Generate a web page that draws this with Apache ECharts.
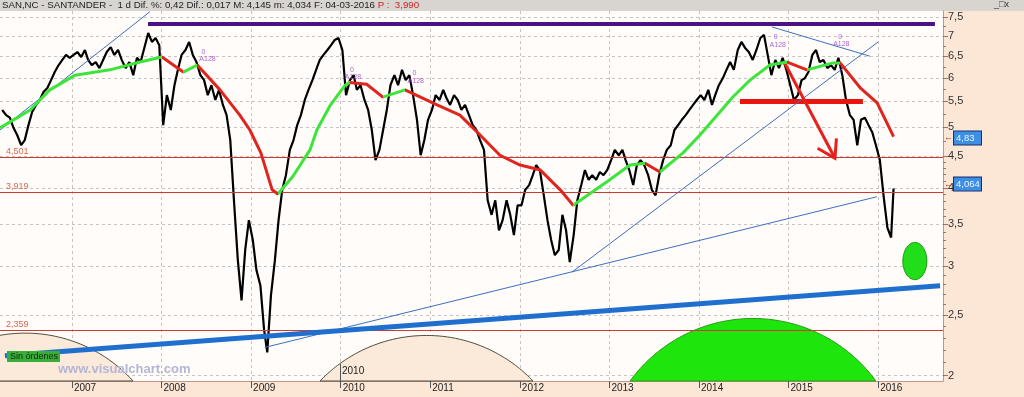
<!DOCTYPE html>
<html><head><meta charset="utf-8">
<script src="https://cdn.jsdelivr.net/npm/echarts@6/dist/echarts.min.js"></script>
<style>html,body{margin:0;padding:0;background:#fce6d5;}#c{width:1024px;height:397px;}</style>
</head><body><div id="c"></div>
<script>
// ---------------- DATA ----------------
// Price, two readings per month (≈8th and ≈23rd), 2006 starts in the 2nd half of March
const price2006 = [5.33,5.23,5.18,4.99,4.86,4.68,4.77,5.04,5.29,5.43,5.53,5.70,5.78,5.95,6.13,6.29,6.41,6.53,6.46];
const price2007 = [6.53,6.60,6.48,6.65,6.41,6.29,6.36,6.22,6.41,6.60,6.72,6.53,6.65,6.41,6.22,6.36,6.06,6.46,6.36,6.70,7.08,6.85,6.95,6.77];
const price2008 = [5.04,5.63,5.33,5.84,6.18,6.53,6.65,6.85,6.53,6.36,6.06,5.95,5.63,5.84,5.53,5.74,5.43,5.23,4.77,3.82,3.06,2.64,3.18,3.55];
const price2009 = [3.30,2.95,2.79,2.37,2.18,2.69,3.06,3.55,3.97,4.19,4.60,4.77,5.04,5.23,5.53,5.74,5.95,6.18,6.41,6.53,6.65,6.77,6.90,6.95];
const price2010 = [6.65,5.63,5.95,6.06,5.74,5.84,5.53,5.33,4.95,4.43,4.60,4.95,5.33,5.84,6.06,5.84,6.18,5.95,6.06,5.63,5.14,4.51,4.77,5.14];
const price2011 = [5.33,5.63,5.53,5.74,5.57,5.43,5.63,5.53,5.33,5.43,5.23,5.04,4.95,4.77,4.60,3.82,3.62,3.82,3.42,3.55,3.82,3.62,3.36,3.75];
const price2012 = [3.75,3.97,4.04,4.19,4.35,4.27,3.89,3.55,3.30,3.12,3.18,3.62,3.42,3.04,3.36,3.82,4.04,4.27,4.12,4.19,4.12,4.24,4.19,4.27];
const price2013 = [4.43,4.60,4.51,4.60,4.43,4.27,4.04,4.35,4.43,4.35,4.19,3.97,3.89,4.19,4.43,4.60,4.68,4.95,5.04,5.14,5.23,5.33,5.43,5.53];
const price2014 = [5.63,5.53,5.74,5.43,5.63,5.84,5.99,6.18,6.36,6.18,6.65,6.85,6.70,6.60,6.41,6.65,6.95,7.03,6.53,6.06,6.41,6.22,6.46,6.18];
const price2015 = [5.84,5.53,5.63,5.95,5.99,6.13,6.53,6.65,6.36,6.41,6.22,6.29,6.18,6.46,6.06,5.53,5.23,5.14,4.68,5.14,5.18,5.04,4.91,4.68];
const price2016 = [4.43,3.89,3.45,3.33];
const lastDate = '2016-03-04';
const lastClose = 3.99;

// Moving average (green while rising, red while falling)
const maDates = ['2006-03-14','2006-07-15','2006-10-03','2007-01-14','2007-06-05','2007-10-05','2008-01-03','2008-03-30','2008-05-26','2008-08-27','2008-11-16','2008-12-27','2009-02-10','2009-03-28','2009-04-20','2009-06-20','2009-08-29','2009-09-26','2009-11-18','2010-01-19','2010-02-08','2010-04-17','2010-06-22','2010-09-20','2011-01-29','2011-05-02','2011-07-23','2011-10-12','2012-01-02','2012-03-25','2012-06-14','2012-08-06','2012-12-22','2013-03-26','2013-05-26','2013-07-26','2013-10-28','2014-01-05','2014-05-19','2014-07-28','2014-10-17','2014-12-26','2015-03-17','2015-07-01','2015-07-30','2015-10-19','2015-12-28','2016-03-04'];
const maValues = [4.99,5.33,5.74,6.06,6.18,6.36,6.48,6.13,6.29,5.74,5.23,4.95,4.55,3.97,3.91,4.17,4.60,4.95,5.41,5.84,5.90,5.86,5.59,5.74,5.43,5.23,4.86,4.51,4.35,4.27,3.97,3.75,4.09,4.35,4.38,4.24,4.55,4.86,5.59,5.95,6.29,6.36,6.18,6.34,6.34,5.79,5.47,4.83];
const maTurnDates = ['2008-01-03','2008-03-30','2008-05-26','2009-04-20','2010-02-08','2010-06-22','2010-09-20','2012-08-06','2013-05-26','2013-07-26','2014-12-26','2015-03-17','2015-07-30'];

// Horizontal levels
const levelValues = [4.501, 3.919, 2.359];
const levelLabels = ['4,501', '3,919', '2,359'];
const resistance = ['2007-11-07', '2016-08-20', 7.32];
const redBar = ['2014-06-17', '2015-10-31', 5.51];
// Trend lines [startDate, startValue, endDate, endValue]
const mainTrend = ['2006-04-03', 2.153, '2016-09-10', 2.786];
const thinTrend1 = ['2006-03-14', 4.95, '2007-11-15', 7.66];
const thinTrend2 = ['2009-02-26', 2.22, '2015-12-27', 3.87];
const thinTrend3 = ['2012-08-01', 2.93, '2016-01-01', 6.85];
const thinTrend4 = ['2014-10-25', 7.24, '2015-11-28', 6.50];
const arrowLine = ['2014-12-14', 6.36, '2015-07-09', 4.46];
// Cycle arcs [start, end, peak value]
const arcStarts = ['2005-04-11', '2009-10-09', '2013-03-26'];
const arcEnds   = ['2007-09-07', '2012-02-24', '2015-12-23'];
const arcPeaks  = [2.34, 2.32, 2.47];
// Target ellipse [from, to, low, high]
const ellipseBox = ['2016-04-11', '2016-07-18', 2.85, 3.27];
// Small indicator marks
const noteDates  = ['2008-06-20','2008-07-07','2010-02-16','2010-02-20','2010-10-29','2010-11-03','2014-11-10','2014-11-18','2015-07-30','2015-08-04'];
const noteValues = [6.60,6.43,6.18,6.02,6.11,5.92,6.98,6.77,6.98,6.80];
const noteTexts  = ['0','A128','0','A128','0','A128','0','A128','0','A128'];
// Right-axis value tags
const tagValues = [4.83, 4.064];
const tagLabels = ['4,83', '4,064'];
// Axis ticks
const yearTicks = [2007,2008,2009,2010,2011,2012,2013,2014,2015,2016];
const yMajor = [2,2.5,3,3.5,4,4.5,5,5.5,6,6.5,7,7.5];
const yMinor = [2.1,2.2,2.3,2.4,2.6,2.7,2.8,2.9,3.1,3.2,3.3,3.4,3.6,3.7,3.8,3.9,4.1,4.2,4.3,4.4,4.75,5.25,5.75,6.25,6.75,7.25];
const xRange = ['2006-03-14', '2016-09-22'];

// ---------------- BUILD ----------------
// dates -> fractional years (x scale is a value axis in years)
function T(s){const p=s.split('-').map(Number);const a=Date.UTC(p[0],0,1),b=Date.UTC(p[0]+1,0,1);return p[0]+(Date.UTC(p[0],p[1]-1,p[2])-a)/(b-a);}
const L = Math.log;
const Y_MIN = 0.6736, Y_MAX = 2.0384;
function pad(n){return n<10?'0'+n:''+n;}
const pricePoints = [];
[[2006,5,price2006],[2007,0,price2007],[2008,0,price2008],[2009,0,price2009],[2010,0,price2010],[2011,0,price2011],[2012,0,price2012],[2013,0,price2013],[2014,0,price2014],[2015,0,price2015],[2016,0,price2016]].forEach(([yr,k0,arr])=>{
  arr.forEach((v,i)=>{const k=k0+i; pricePoints.push([T(yr+'-'+pad(Math.floor(k/2)+1)+'-'+(k%2?'23':'08')), L(v)]);});
});
pricePoints.push([T(lastDate), L(lastClose)]);
const maPoints = maDates.map((d,i)=>[T(d), L(maValues[i])]);
const GREEN='#3de43a', RED='#e0241e';
const pieces=[]; let prev=null;
maTurnDates.forEach((d,i)=>{const t=T(d); const p={color: i%2?RED:GREEN, lt:t}; if(prev!==null)p.gte=prev; pieces.push(p); prev=t;});
pieces.push({gte:prev, color: maTurnDates.length%2?RED:GREEN});

function seg(a, style){return [{coord:[T(a[0]),L(a[1])], lineStyle:style},{coord:[T(a[2]),L(a[3])]}];}
const thinBlue={color:'#3d6fc0',width:1,type:'solid'};
const markLines = [];
levelValues.forEach((v,i)=>markLines.push({yAxis:L(v), lineStyle:{color:'#cc3b33',width:1,type:'solid'},
  label:{show:true,position:'insideStartTop',formatter:levelLabels[i],color:'#d9684e',fontSize:9,distance:[6,1],fontFamily:'Liberation Sans'}}));
markLines.push(seg([resistance[0],resistance[2],resistance[1],resistance[2]],{color:'#4a1283',width:4,type:'solid'}));
markLines.push(seg([redBar[0],redBar[2],redBar[1],redBar[2]],{color:'#ea1410',width:5,type:'solid'}));
markLines.push(seg(thinTrend1,thinBlue));
markLines.push(seg(thinTrend2,thinBlue));
markLines.push(seg(thinTrend3,thinBlue));
markLines.push(seg(thinTrend4,thinBlue));
markLines.push(seg(mainTrend,{color:'#1f6fcf',width:5,type:'solid'}));

const arcStyles=[{fill:'#fbe9da',stroke:'#4d4d3a'},{fill:'#fbe9da',stroke:'#4d4d3a'},{fill:'#1ee60c',stroke:'#2a9a1a'}];
function arcRender(params, api){
  const p0=api.coord([api.value(0),Y_MIN]), p1=api.coord([api.value(1),Y_MIN]);
  const pk=api.coord([api.value(0),api.value(2)]);
  const half=(p1[0]-p0[0])/2, s=p0[1]-pk[1];
  const R=(half*half+s*s)/(2*s), cx=(p0[0]+p1[0])/2, cy=p0[1]-s+R;
  const a0=Math.atan2(p0[1]-cy,p0[0]-cx), a1=Math.atan2(p1[1]-cy,p1[0]-cx);
  const pts=[]; for(let i=0;i<=90;i++){const a=a0+(a1-a0)*i/90; pts.push([cx+R*Math.cos(a),cy+R*Math.sin(a)]);}
  const st=arcStyles[params.dataIndex];
  return {type:'polygon',shape:{points:pts},style:{fill:st.fill,stroke:st.stroke,lineWidth:1}};
}
function ellipseRender(params, api){
  const a=api.coord([api.value(0),api.value(3)]), b=api.coord([api.value(1),api.value(2)]);
  const cx=(a[0]+b[0])/2, cy=(a[1]+b[1])/2, rx=(b[0]-a[0])/2, ry=(b[1]-a[1])/2;
  const pts=[]; for(let i=0;i<60;i++){const t=i/60*Math.PI*2; pts.push([cx+rx*Math.cos(t),cy+ry*Math.sin(t)]);}
  return {type:'polygon',shape:{points:pts},style:{fill:'#22dd1a',stroke:'#189a10',lineWidth:1}};
}
function arrowRender(params, api){
  const p=api.coord([api.value(0),api.value(1)]), q=api.coord([api.value(2),api.value(3)]);
  const ang=Math.atan2(p[1]-q[1],p[0]-q[0]), len=20, sp=0.56;
  const h1=[q[0]+len*Math.cos(ang+sp),q[1]+len*Math.sin(ang+sp)], h2=[q[0]+len*Math.cos(ang-sp),q[1]+len*Math.sin(ang-sp)];
  const st={stroke:'#e8201c',lineWidth:3,fill:null};
  return {type:'group',children:[{type:'line',shape:{x1:p[0],y1:p[1],x2:q[0],y2:q[1]},style:st},{type:'polyline',shape:{points:[h1,q,h2]},style:st}]};
}

const FONT='Liberation Sans';
const option = {
  animation:false,
  backgroundColor:'#fce6d5',
  grid:{left:0,right:81,top:11,bottom:16,show:true,backgroundColor:'#fffcf9',borderWidth:0},
  xAxis:{type:'value',min:T(xRange[0]),max:T(xRange[1]),
    axisLine:{lineStyle:{color:'#c6948a',width:1}},
    axisTick:{show:true,length:7,customValues:yearTicks,lineStyle:{color:'#555'}},
    axisLabel:{customValues:yearTicks,formatter:v=>String(Math.round(v)),align:'left',
      padding:[0,0,0,2],margin:2,color:'#222',fontSize:10,fontFamily:FONT},
    splitLine:{show:true,lineStyle:{color:'#c4c4c4',type:[3,3],width:1}}},
  yAxis:[
    {type:'value',position:'right',min:Y_MIN,max:Y_MAX,
      axisLine:{show:true,lineStyle:{color:'#c6948a'}},
      axisTick:{show:true,length:5,customValues:yMajor.map(L),lineStyle:{color:'#a07070'}},
      axisLabel:{customValues:yMajor.map(L),formatter:v=>String(Math.round(Math.exp(v)*10)/10).replace('.',','),
        color:'#333',fontSize:11,margin:5,fontFamily:FONT},
      splitLine:{show:false}},
    {type:'value',position:'left',min:Y_MIN,max:Y_MAX,axisLine:{show:false},axisLabel:{show:false},
      axisTick:{show:false,customValues:yMajor.map(L)},
      splitLine:{show:true,lineStyle:{color:'#c4c4c4',type:[3,3],width:1}}},
    {type:'value',position:'right',min:Y_MIN,max:Y_MAX,axisLine:{show:false},axisLabel:{show:false},
      axisTick:{show:true,length:3,customValues:yMinor.map(L),lineStyle:{color:'#a07070'}},splitLine:{show:false}}
  ],
  visualMap:{type:'piecewise',show:false,dimension:0,seriesIndex:2,pieces:pieces},
  series:[
    {type:'custom',name:'arcs',z:1,renderItem:arcRender,silent:true,
      encode:{x:[0,1],y:2},data:arcStarts.map((d,i)=>[T(d),T(arcEnds[i]),L(arcPeaks[i])])},
    {type:'line',name:'price',z:4,data:pricePoints,showSymbol:false,symbol:'none',
      lineStyle:{color:'#000',width:2.2},itemStyle:{color:'#000'},
      markLine:{silent:true,symbol:['none','none'],animation:false,data:markLines,label:{show:false}}},
    {type:'line',name:'ma',z:8,data:maPoints,showSymbol:false,symbol:'none',lineStyle:{width:3},clip:false,
      markLine:{silent:true,symbol:['none','none'],lineStyle:{color:'rgba(0,0,0,0)',width:1,type:'solid'},animation:false,
        data:tagValues.map((v,i)=>({yAxis:L(v),lineStyle:{color:'rgba(0,0,0,0)'},label:{show:true,position:'end',distance:1,opacity:1,
          formatter:'{a|←}{b|'+tagLabels[i]+'}',
          rich:{a:{color:'#c03028',fontSize:9,padding:[0,1,0,0]},
                b:{backgroundColor:'#3d8fe6',color:'#eaf4ff',borderColor:'#1a2f70',borderWidth:1,padding:[2,1,1,2],fontSize:9.5,width:24,align:'left',fontFamily:FONT}}}}))}},
    {type:'custom',name:'ellipse',z:3,renderItem:ellipseRender,silent:true,
      encode:{x:[0,1],y:[2,3]},data:[[T(ellipseBox[0]),T(ellipseBox[1]),L(ellipseBox[2]),L(ellipseBox[3])]]},
    {type:'custom',name:'arrow',z:6,renderItem:arrowRender,silent:true,
      encode:{x:[0,2],y:[1,3]},data:[[T(arrowLine[0]),L(arrowLine[1]),T(arrowLine[2]),L(arrowLine[3])]]},
    {type:'scatter',name:'notes',z:7,symbolSize:0,silent:true,
      data:noteDates.map((d,i)=>[T(d),L(noteValues[i]),noteTexts[i]]),
      label:{show:true,position:'inside',formatter:p=>p.value[2],color:'#9a3ccf',fontSize:7,fontFamily:FONT}}
  ],
  graphic:[
    {type:'rect',left:0,top:0,shape:{width:1024,height:11},style:{fill:'#d8d5d1'},silent:true},
    {type:'text',left:2,top:0,style:{text:'SAN,NC - SANTANDER -  1 d Dif. %: 0,42 Dif.: 0,017 M: 4,145 m: 4,034 F: 04-03-2016 {r|P :  3,990}',
      rich:{r:{fill:'#d02020',fontSize:9.7,fontFamily:FONT}},fill:'#222',fontSize:9.7,fontFamily:FONT}},
    {type:'text',left:994,top:0,style:{text:'_□x',fill:'#333',fontSize:9,fontFamily:FONT}},
    {type:'rect',left:7,top:351,shape:{width:53,height:11},style:{fill:'#39ad37'},z:50},
    {type:'text',left:10,top:352,style:{text:'Sin órdenes',fill:'#102810',fontSize:9,fontFamily:FONT},z:51},
    {type:'text',left:58,top:363,style:{text:'www.visualchart.com',fill:'#b3b6d6',fontSize:13,fontWeight:'bold',fontFamily:FONT},z:51},
    {type:'line',shape:{x1:340.5,y1:364,x2:340.5,y2:381},style:{stroke:'#555',lineWidth:1},z:51},
    {type:'text',left:342,top:366,style:{text:'2010',fill:'#222',fontSize:10,fontFamily:FONT},z:51}
  ]
};
const chart = echarts.init(document.getElementById('c'));
chart.setOption(option);
</script></body></html>
